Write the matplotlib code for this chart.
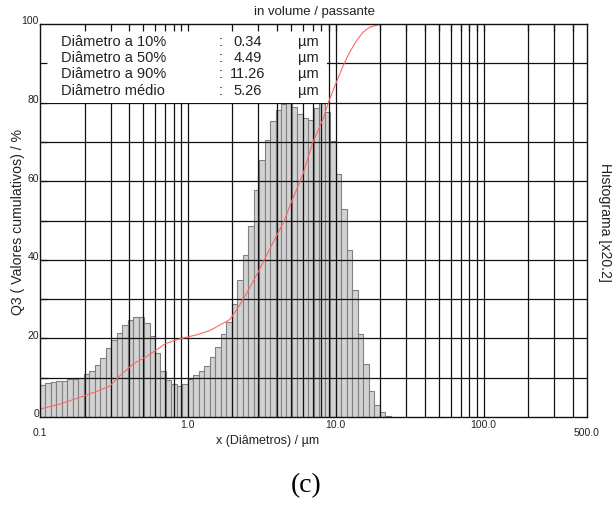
import numpy as np
import matplotlib
matplotlib.use("Agg")
import matplotlib.pyplot as plt
from matplotlib.patches import Rectangle

plt.rcParams['font.family'] = ['Liberation Sans', 'DejaVu Sans']

# histograma (escala x20.2), classes logarítmicas 27 por década a partir de 0.1 µm
hist_heights = [8.1, 8.6, 9.0, 9.2, 9.2, 9.7, 9.7, 9.9, 10.9, 11.7,
                13.2, 14.9, 17.5, 19.7, 21.5, 23.4, 24.8, 25.4, 25.4, 23.8,
                20.5, 16.3, 11.7, 9.5, 8.5, 7.8, 8.5, 9.7, 10.6, 11.6,
                13.0, 15.3, 17.7, 21.0, 24.1, 28.8, 34.8, 41.3, 48.7, 57.7,
                65.3, 70.6, 75.3, 78.2, 79.7, 79.9, 78.9, 77.2, 76.0, 75.6,
                78.5, 80.0, 77.5, 70.3, 61.9, 52.9, 42.6, 32.4, 21.2, 13.6,
                6.7, 3.1, 1.2, 0.2]
bins_per_decade = 27
x_start = 0.1

# curva cumulativa Q3
cum_x = [0.1, 0.1365, 0.186, 0.2415, 0.297, 0.347, 0.427, 0.526, 0.614, 0.70,
         0.796, 0.929, 1.145, 1.408, 1.645, 1.92, 2.2, 2.5, 3.0, 3.5, 4.0, 4.49,
         5.0, 6.0, 7.0, 8.2, 9.1, 10.1, 11.2, 12.4, 13.8, 15.3, 17.0, 19.8, 500.0]
cum_y = [2.0, 3.3, 5.0, 6.5, 7.9, 10.5, 13.5, 15.4, 17.1, 18.6,
         19.4, 20.1, 20.9, 22.0, 23.4, 24.8, 28.0, 31.5, 37.0, 42.0, 46.3, 50.0,
         54.6, 61.8, 69.9, 75.8, 80.9, 85.2, 89.3, 92.8, 95.7, 97.9, 99.2, 99.9, 100.0]

grid_x = [0.2, 0.3, 0.4, 0.5, 0.6, 0.7, 0.8, 0.9, 1, 2, 3, 4, 5, 6, 7, 8, 9,
          10, 20, 30, 40, 50, 60, 70, 80, 90, 100, 200, 300, 400]
grid_y = [10, 20, 30, 40, 50, 60, 70, 80, 90]

xtick_vals = [1.0, 10.0, 100.0]
xtick_labels = ['1.0', '10.0', '100.0']
ytick_vals = [0, 20, 40, 60, 80, 100]

stats_labels = ['Diâmetro a 10%', 'Diâmetro a 50%', 'Diâmetro a 90%', 'Diâmetro médio']
stats_values = ['0.34', '4.49', '11.26', '5.26']

W, H = 612, 506
fig = plt.figure(figsize=(W / 100, H / 100), dpi=100)
ax = fig.add_axes([40 / W, 88 / H, 547 / W, 393 / H])
ax.set_xscale('log')
ax.set_xlim(0.1, 500)
ax.set_ylim(0, 100)

edges = x_start * 10 ** (np.arange(len(hist_heights) + 1) / bins_per_decade)
ax.bar(edges[:-1], hist_heights, width=np.diff(edges), align='edge',
       color='#d2d2d2', edgecolor='#808080', linewidth=0.8, zorder=2)

for v in grid_x:
    ax.axvline(v, color='#111111', lw=0.9, zorder=3)
for v in grid_y:
    ax.axhline(v, color='#111111', lw=0.9, zorder=3)

# caixa branca com os diâmetros
ax.add_patch(Rectangle((0, 0.8), (327 - 40) / 547, 0.2, transform=ax.transAxes,
                       facecolor='white', edgecolor='none', zorder=4))

ax.plot(cum_x, cum_y, color='#ff6666', lw=0.8, zorder=6)

ax.minorticks_off()
ax.set_xticks(grid_x, labels=[])
ax.set_yticks(grid_y, labels=[])
ax.tick_params(direction='in', length=5, width=0.9, color='#111111',
               top=True, right=False, bottom=False)
ax.xaxis.set_zorder(5)
ax.yaxis.set_zorder(5)
for s in ax.spines.values():
    s.set_color('#111111')
    s.set_linewidth(1.0)
    s.set_zorder(7)

tr = ax.get_xaxis_transform()
for v, lab in zip(xtick_vals, xtick_labels):
    ax.text(v, -0.018, lab, transform=tr, ha='center', va='center', fontsize=7.5, color='#222222')
ax.text(0.1, -0.038, '0.1', transform=tr, ha='center', va='center', fontsize=7.5, color='#222222')
ax.text(500, -0.038, '500.0', transform=tr, ha='center', va='center', fontsize=7.5, color='#222222')

ytr = ax.get_yaxis_transform()
for v in ytick_vals:
    ax.text(-0.002, v + 0.9, str(v), transform=ytr, ha='right', va='center',
            fontsize=7.5, color='#222222')

for i, (lab, val) in enumerate(zip(stats_labels, stats_values)):
    yy = 1 - (41.7 + i * 16.3) / H
    fig.text(61 / W, yy, lab, ha='left', va='center', fontsize=10.5, color='#222222')
    fig.text(221 / W, yy, ':', ha='center', va='center', fontsize=10.5, color='#222222')
    fig.text(247.5 / W, yy, val, ha='center', va='center', fontsize=10.5, color='#222222')
    fig.text(298 / W, yy, 'µm', ha='left', va='center', fontsize=10.5, color='#222222')

fig.text(314 / W, 1 - 12 / H, 'in volume / passante', ha='center', va='center', fontsize=9.5, color='#222222')
fig.text(268 / W, 1 - 441 / H, 'x (Diâmetros) / µm', ha='center', va='center', fontsize=9, color='#222222')
fig.text(18 / W, 1 - 222 / H, 'Q3 ( Valores cumulativos) / %', rotation=90,
         ha='center', va='center', fontsize=10.2, color='#222222')
fig.text(605 / W, 1 - 222 / H, 'Histograma [x20.2]', rotation=270,
         ha='center', va='center', fontsize=10.2, color='#222222')
fig.text(306 / W, 1 - 486 / H, '(c)', ha='center', va='center', fontsize=20,
         family=['Liberation Serif', 'DejaVu Serif'], color='black')

fig.savefig('out.png', dpi=100)
